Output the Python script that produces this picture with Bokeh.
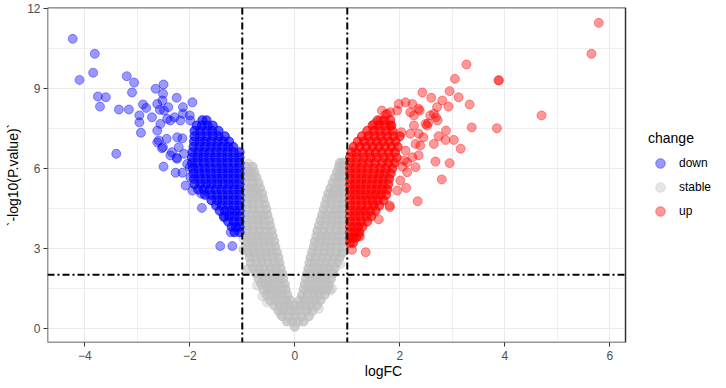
from bokeh.plotting import figure
from bokeh.models import Range1d, FixedTicker, Span, Legend, LegendItem, BoxAnnotation
from bokeh.embed import file_html
from bokeh.resources import INLINE

# ---------------- data ----------------
x_ticks = [-4, -2, 0, 2, 4, 6]
y_ticks = [0, 3, 6, 9, 12]
categories = ["down", "stable", "up"]
fc_cut = [-1, 1]
p_cut = 2

# dense "stable" core (rows of overlapping points): (-log10 p, [logFC ...])
stable_rows = [
    (6.2, [0.86, 0.92]),
    (6.05, [-0.91, -0.80, 0.84, 0.91]),
    (5.85, [-0.91, -0.84, -0.77, 0.80, 0.86, 0.91]),
    (5.65, [-0.91, -0.82, -0.73, 0.76, 0.84, 0.91]),
    (5.45, [-0.91, -0.80, -0.69, 0.72, 0.81, 0.91]),
    (5.25, [-0.91, -0.83, -0.74, -0.66, 0.68, 0.76, 0.84, 0.91]),
    (5.05, [-0.91, -0.81, -0.72, -0.62, 0.64, 0.73, 0.82, 0.91]),
    (4.85, [-0.91, -0.81, -0.70, -0.60, 0.61, 0.71, 0.81, 0.91]),
    (4.65, [-0.91, -0.80, -0.68, -0.57, 0.58, 0.69, 0.80, 0.91]),
    (4.45, [-0.91, -0.79, -0.67, -0.54, 0.55, 0.67, 0.79, 0.91]),
    (4.25, [-0.91, -0.81, -0.71, -0.62, -0.52, 0.52, 0.62, 0.72, 0.81, 0.91]),
    (4.05, [-0.91, -0.81, -0.70, -0.60, -0.49, 0.49, 0.60, 0.70, 0.81, 0.91]),
    (3.85, [-0.91, -0.80, -0.69, -0.58, -0.47, 0.46, 0.57, 0.69, 0.80, 0.91]),
    (3.65, [-0.91, -0.79, -0.68, -0.56, -0.44, 0.43, 0.55, 0.67, 0.79, 0.91]),
    (3.45, [-0.91, -0.81, -0.71, -0.61, -0.51, -0.42, 0.41, 0.51, 0.61, 0.71, 0.81, 0.91]),
    (3.25, [-0.90, -0.80, -0.70, -0.59, -0.49, -0.39, 0.38, 0.49, 0.59, 0.70, 0.80, 0.91]),
    (3.05, [-0.89, -0.79, -0.68, -0.58, -0.47, -0.37, 0.36, 0.46, 0.57, 0.68, 0.79, 0.91]),
    (2.85, [-0.88, -0.77, -0.66, -0.55, -0.45, -0.34, 0.33, 0.44, 0.56, 0.67, 0.78, 0.90]),
    (2.65, [-0.86, -0.75, -0.64, -0.53, -0.42, -0.31, 0.30, 0.41, 0.52, 0.63, 0.74, 0.85]),
    (2.45, [-0.84, -0.73, -0.62, -0.51, -0.40, -0.29, 0.28, 0.38, 0.49, 0.59, 0.70, 0.80]),
    (2.25, [-0.79, -0.68, -0.58, -0.47, -0.37, -0.27, 0.26, 0.36, 0.46, 0.56, 0.66, 0.76]),
    (2.05, [-0.74, -0.64, -0.54, -0.44, -0.34, -0.24, 0.24, 0.34, 0.43, 0.53, 0.63, 0.73]),
    (1.85, [-0.69, -0.60, -0.50, -0.41, -0.31, -0.22, 0.21, 0.31, 0.40, 0.50, 0.60, 0.69]),
    (1.65, [-0.64, -0.55, -0.46, -0.37, -0.28, -0.19, 0.19, 0.28, 0.38, 0.47, 0.56, 0.65]),
    (1.45, [-0.60, -0.51, -0.42, -0.34, -0.25, -0.17, 0.17, 0.26, 0.35, 0.44, 0.53, 0.62]),
    (1.25, [-0.54, -0.44, -0.34, -0.24, -0.14, 0.14, 0.25, 0.36, 0.46, 0.57]),
    (1.05, [-0.47, -0.37, -0.27, -0.17, -0.09, 0.09, 0.18, 0.28, 0.38, 0.49]),
    (0.85, [-0.39, -0.29, -0.19, -0.10, 0.0, 0.10, 0.21, 0.31, 0.42]),
    (0.65, [-0.31, -0.21, -0.10, 0.0, 0.11, 0.23, 0.34]),
    (0.45, [-0.24, -0.12, 0.0, 0.13, 0.27]),
    (0.25, [-0.15, -0.05, 0.06, 0.17]),
    (0.05, [0.0]),
]
# scattered "stable" points at the edges
stable_x = [-0.88, -0.98, -0.97, -0.98, -0.91, -0.88, -0.72, -0.62, -0.53, -0.27, 0.87, 0.90, 0.71, 0.68, 0.46]
stable_y = [6.17, 3.35, 2.91, 2.98, 2.21, 2.23, 1.60, 1.20, 0.97, 0.54, 2.41, 2.79, 1.48, 1.41, 0.73]

# dense "down" core
down_rows = [
    (7.8, [-1.76, -1.68]),
    (7.6, [-1.87, -1.77, -1.66, -1.56]),
    (7.4, [-1.91, -1.80, -1.68, -1.57, -1.45]),
    (7.2, [-1.91, -1.80, -1.68, -1.56, -1.45, -1.33]),
    (7.0, [-1.92, -1.81, -1.70, -1.59, -1.47, -1.36, -1.25]),
    (6.8, [-1.93, -1.82, -1.71, -1.60, -1.49, -1.38, -1.27, -1.17]),
    (6.6, [-1.95, -1.84, -1.73, -1.62, -1.50, -1.39, -1.28, -1.16, -1.05]),
    (6.4, [-1.96, -1.85, -1.74, -1.62, -1.51, -1.39, -1.28, -1.16, -1.05]),
    (6.2, [-1.96, -1.85, -1.73, -1.62, -1.50, -1.39, -1.28, -1.16, -1.05]),
    (6.0, [-1.94, -1.83, -1.72, -1.61, -1.49, -1.38, -1.27, -1.16, -1.05]),
    (5.8, [-1.93, -1.82, -1.71, -1.60, -1.49, -1.38, -1.27, -1.16, -1.05]),
    (5.6, [-1.92, -1.81, -1.70, -1.59, -1.48, -1.38, -1.27, -1.16, -1.05]),
    (5.4, [-1.91, -1.80, -1.69, -1.59, -1.48, -1.37, -1.26, -1.16, -1.05]),
    (5.2, [-1.84, -1.73, -1.62, -1.50, -1.39, -1.28, -1.16, -1.05]),
    (5.0, [-1.71, -1.60, -1.49, -1.38, -1.27, -1.16, -1.05]),
    (4.8, [-1.59, -1.48, -1.38, -1.27, -1.16, -1.05]),
    (4.6, [-1.50, -1.39, -1.27, -1.16, -1.05]),
    (4.4, [-1.43, -1.33, -1.24, -1.14, -1.05]),
    (4.2, [-1.35, -1.25, -1.15, -1.05]),
    (4.0, [-1.27, -1.16, -1.05]),
    (3.8, [-1.20, -1.12, -1.05]),
    (3.6, [-1.15, -1.05]),
]
down_x = [-4.23, -3.81, -4.10, -3.84, -3.75, -3.60, -3.71, -3.35, -3.16, -3.40,
          -3.20, -3.06, -3.10, -2.89, -2.83, -2.96, -2.96, -2.93, -2.72, -2.65,
          -2.50, -2.51, -2.62, -2.52, -2.57, -2.41, -2.49, -2.43, -2.56, -2.62,
          -2.62, -2.44, -2.51, -2.50, -2.25, -2.29, -2.18, -2.13, -2.13, -1.95,
          -2.00, -2.24, -2.14, -2.21, -2.34, -2.24, -2.27, -2.14, -2.08, -1.77,
          -1.42, -1.19, -1.95, -1.78, -2.00, -2.37, -2.25, -2.05, -2.11, -1.99,
          -1.99, -2.37, -1.35, -1.22, -2.53, -2.59]
down_y = [10.85, 10.29, 9.31, 9.58, 8.69, 8.66, 8.31, 8.20, 8.20, 6.54,
          9.45, 9.21, 8.84, 8.39, 8.26, 7.98, 7.72, 7.33, 7.91, 8.98,
          9.14, 8.79, 8.41, 8.54, 8.19, 8.29, 8.16, 7.85, 7.66, 7.41,
          6.97, 7.10, 6.79, 6.06, 8.64, 7.91, 7.79, 8.29, 8.04, 8.47,
          7.98, 7.16, 7.12, 6.79, 6.60, 6.35, 5.83, 5.83, 5.35, 4.51,
          3.08, 3.08, 5.16, 5.04, 6.04, 6.48, 6.39, 6.16, 6.54, 5.66,
          7.79, 7.79, 4.16, 3.60, 6.75, 7.04]

# dense "up" core
up_rows = [
    (3.2, [1.05, 1.11]),
    (3.4, [1.05, 1.11, 1.17]),
    (3.6, [1.05, 1.14, 1.23]),
    (3.8, [1.05, 1.13, 1.21, 1.29]),
    (4.0, [1.05, 1.16, 1.27, 1.38]),
    (4.2, [1.05, 1.15, 1.25, 1.36, 1.46]),
    (4.4, [1.05, 1.15, 1.25, 1.34, 1.44, 1.54]),
    (4.6, [1.05, 1.16, 1.27, 1.39, 1.50, 1.61]),
    (4.8, [1.05, 1.16, 1.27, 1.37, 1.48, 1.58, 1.69]),
    (5.0, [1.05, 1.15, 1.25, 1.35, 1.45, 1.54, 1.64, 1.74]),
    (5.2, [1.05, 1.15, 1.25, 1.35, 1.46, 1.56, 1.66, 1.76]),
    (5.4, [1.05, 1.15, 1.26, 1.36, 1.47, 1.57, 1.68, 1.78]),
    (5.6, [1.05, 1.16, 1.27, 1.37, 1.48, 1.59, 1.69, 1.80]),
    (5.8, [1.05, 1.16, 1.27, 1.38, 1.50, 1.61, 1.72, 1.83]),
    (6.0, [1.05, 1.16, 1.27, 1.39, 1.51, 1.63, 1.74, 1.86]),
    (6.2, [1.05, 1.17, 1.29, 1.41, 1.53, 1.66, 1.78, 1.90]),
    (6.4, [1.05, 1.18, 1.31, 1.44, 1.56, 1.69, 1.81, 1.94]),
    (6.6, [1.08, 1.17, 1.30, 1.42, 1.54, 1.66, 1.79, 1.91]),
    (6.8, [1.12, 1.24, 1.36, 1.48, 1.60, 1.72, 1.84, 1.96]),
    (7.0, [1.20, 1.32, 1.44, 1.56, 1.68, 1.80, 1.92]),
    (7.2, [1.28, 1.40, 1.52, 1.64, 1.76, 1.88, 2.00]),
    (7.4, [1.38, 1.50, 1.62, 1.74, 1.86]),
    (7.6, [1.48, 1.60, 1.72, 1.84]),
    (7.8, [1.58, 1.70, 1.82]),
]
up_x = [5.79, 5.65, 3.27, 3.05, 3.89, 3.88, 4.70, 3.85, 3.37, 3.33,
        3.12, 2.95, 2.93, 2.81, 2.43, 2.60, 2.88, 3.03, 3.16, 2.95,
        2.68, 2.80, 2.34, 2.30, 2.74, 2.65, 2.39, 2.36, 2.69, 2.71,
        2.54, 1.35, 1.09, 1.60, 1.81, 2.12, 1.95, 2.14, 2.01, 1.98,
        2.11, 2.24, 2.20, 2.36, 2.49, 2.58, 2.27, 2.27, 2.36, 2.30,
        2.11, 2.08, 1.76, 1.66, 2.87, 2.72, 2.65, 2.45, 2.20, 2.03,
        1.82, 1.63, 1.51, 1.82, 1.73, 2.38, 2.05, 2.24, 2.14, 1.81,
        1.24, 1.22, 2.52, 1.95]
up_y = [11.45, 10.29, 9.89, 9.35, 9.29, 9.30, 7.98, 7.50, 7.53, 8.39,
        8.66, 8.89, 8.31, 8.54, 8.84, 8.64, 7.41, 7.06, 6.73, 6.19,
        6.25, 5.58, 4.76, 6.04, 7.20, 6.91, 6.85, 6.48, 7.91, 8.29,
        7.69, 2.85, 2.94, 4.08, 4.54, 5.26, 5.16, 5.85, 5.54, 8.41,
        8.47, 8.41, 8.10, 8.23, 7.66, 7.98, 7.98, 7.60, 7.29, 6.91,
        6.66, 6.29, 8.04, 8.16, 7.06, 7.79, 8.04, 7.16, 7.29, 7.35,
        7.60, 7.79, 7.66, 8.10, 8.01, 8.16, 6.06, 6.41, 6.22, 4.60,
        3.44, 3.48, 7.60, 8.16]


def unroll(rows):
    xs, ys = [], []
    for yv, row in rows:
        for xv in row:
            xs.append(xv)
            ys.append(yv)
    return xs, ys


FONT = "Liberation Sans"
COLORS = {"down": "#0000FF", "stable": "#BEBEBE", "up": "#FF0000"}

# panel limits (data units) and extra room on the right for the legend
X0, X1, Y0, Y1 = -4.71, 6.30, -0.536, 12.026
X_END = 8.09

p = figure(frame_width=672, frame_height=335,
           x_range=Range1d(X0, X_END), y_range=Range1d(Y0, Y1),
           output_backend="svg", toolbar_location=None,
           min_border_left=47, min_border_right=0,
           min_border_top=7, min_border_bottom=38)
p.background_fill_color = "white"
p.border_fill_color = "white"
p.outline_line_color = None

p.xaxis.ticker = FixedTicker(ticks=x_ticks, minor_ticks=[-5, -3, -1, 1, 3, 5])
p.yaxis.ticker = FixedTicker(ticks=y_ticks, minor_ticks=[1.5, 4.5, 7.5, 10.5])
for g in (p.xgrid, p.ygrid):
    g.grid_line_color = "#EBEBEB"
    g.grid_line_width = 1
    g.minor_grid_line_color = "#EFEFEF"
    g.minor_grid_line_width = 1

for ax in (p.xaxis, p.yaxis):
    ax.axis_line_color = None
    ax.major_tick_line_color = "#333333"
    ax.major_tick_in = 0
    ax.major_tick_out = 4
    ax.minor_tick_line_color = None
    ax.major_label_text_color = "#4D4D4D"
    ax.major_label_text_font = FONT
    ax.major_label_text_font_size = "12px"
    ax.axis_label_text_font = FONT
    ax.axis_label_text_font_size = "14px"
    ax.axis_label_text_font_style = "normal"
    ax.axis_label_text_color = "black"
p.xaxis.major_label_standoff = 4
p.xaxis.axis_label_standoff = 0
p.yaxis.major_label_standoff = 3
p.yaxis.axis_label_standoff = 3
p.xaxis.bounds = (X0, X1)
p.xaxis.axis_label = "logFC"
p.yaxis.axis_label = "`-log10(P.value)`"


def pts(xs, ys, color, alpha):
    return p.scatter(xs, ys, size=9, line_width=1, fill_color=color, line_color=color,
                     fill_alpha=alpha, line_alpha=alpha)


# points
sx, sy = unroll(stable_rows)
pts(sx, sy, COLORS["stable"], 0.75)
r_stable = pts(stable_x, stable_y, COLORS["stable"], 0.4)
dx, dy = unroll(down_rows)
pts(dx, dy, COLORS["down"], 0.65)
r_down = pts(down_x, down_y, COLORS["down"], 0.4)
ux, uy = unroll(up_rows)
pts(ux, uy, COLORS["up"], 0.65)
r_up = pts(up_x, up_y, COLORS["up"], 0.4)

# threshold lines
for v in fc_cut:
    p.add_layout(Span(location=v, dimension="height", line_color="black",
                      line_width=2, line_dash="7 3 2 3"))
p.add_layout(Span(location=p_cut, dimension="width", line_color="black",
                  line_width=2, line_dash="7 3 2 3"))

# blank area right of the panel, then the panel border
p.add_layout(BoxAnnotation(left=X1, right=X_END, bottom=Y0, top=Y1,
                           fill_color="white", fill_alpha=1, line_color=None))
p.add_layout(BoxAnnotation(left=X0, right=X1, bottom=Y0, top=Y1,
                           fill_alpha=0, line_color="#333333", line_alpha=1,
                           line_width=1.5))

# legend
rmap = {"down": r_down, "stable": r_stable, "up": r_up}
items = [LegendItem(label=c, renderers=[rmap[c]]) for c in categories]
legend = Legend(items=items, title="change", location=(601, 119),
                border_line_color=None, background_fill_alpha=0,
                padding=0, margin=0, spacing=0,
                glyph_height=24, glyph_width=24, label_height=24,
                label_standoff=7, title_standoff=5,
                title_text_font=FONT, title_text_font_size="14px",
                title_text_font_style="normal", title_text_color="black",
                label_text_font=FONT, label_text_font_size="12px",
                label_text_color="black")
p.add_layout(legend)

open("out.html", "w").write(file_html(p, INLINE))
